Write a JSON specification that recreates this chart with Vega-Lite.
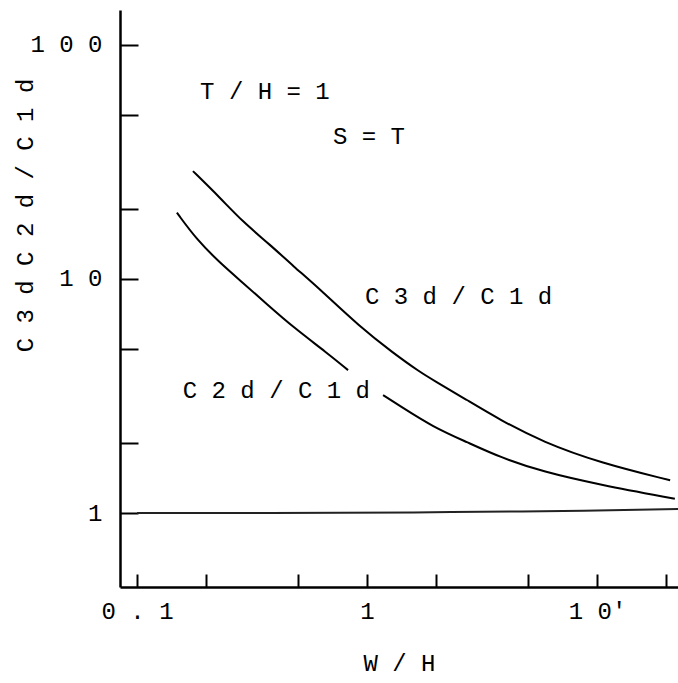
{
  "$schema": "https://vega.github.io/schema/vega-lite/v6.json",
  "width": 558,
  "height": 577,
  "autosize": {"type": "none"},
  "padding": {"left": 120, "top": 10, "right": 0, "bottom": 96},
  "background": "white",
  "config": {
    "view": {"stroke": null},
    "font": "Liberation Mono",
    "axis": {
      "domainColor": "black", "domainWidth": 2.5, "tickColor": "black", "tickWidth": 2,
      "labelColor": "black", "labelFont": "Liberation Mono", "labelFontSize": 24,
      "titleColor": "black", "titleFont": "Liberation Mono", "titleFontSize": 24, "titleFontWeight": "normal",
      "grid": false
    }
  },
  "datasets": {
    "curves": [
      {"series": "C3d/C1d", "seg": "a", "x": 0.175, "y": 28.9},
      {"series": "C3d/C1d", "seg": "a", "x": 0.230, "y": 22.2},
      {"series": "C3d/C1d", "seg": "a", "x": 0.289, "y": 17.5},
      {"series": "C3d/C1d", "seg": "a", "x": 0.379, "y": 14.0},
      {"series": "C3d/C1d", "seg": "a", "x": 0.480, "y": 11.3},
      {"series": "C3d/C1d", "seg": "a", "x": 0.612, "y": 9.2},
      {"series": "C3d/C1d", "seg": "a", "x": 0.932, "y": 6.23},
      {"series": "C3d/C1d", "seg": "a", "x": 1.30, "y": 4.83},
      {"series": "C3d/C1d", "seg": "a", "x": 1.70, "y": 4.00},
      {"series": "C3d/C1d", "seg": "a", "x": 1.94, "y": 3.70},
      {"series": "C3d/C1d", "seg": "a", "x": 2.72, "y": 3.04},
      {"series": "C3d/C1d", "seg": "a", "x": 3.79, "y": 2.50},
      {"series": "C3d/C1d", "seg": "a", "x": 5.82, "y": 2.01},
      {"series": "C3d/C1d", "seg": "a", "x": 10.3, "y": 1.64},
      {"series": "C3d/C1d", "seg": "a", "x": 20.8, "y": 1.38},
      {"series": "C2d/C1d", "seg": "a", "x": 0.149, "y": 19.2},
      {"series": "C2d/C1d", "seg": "a", "x": 0.182, "y": 14.7},
      {"series": "C2d/C1d", "seg": "a", "x": 0.230, "y": 11.7},
      {"series": "C2d/C1d", "seg": "a", "x": 0.289, "y": 9.62},
      {"series": "C2d/C1d", "seg": "a", "x": 0.367, "y": 7.8},
      {"series": "C2d/C1d", "seg": "a", "x": 0.477, "y": 6.23},
      {"series": "C2d/C1d", "seg": "a", "x": 0.670, "y": 4.83},
      {"series": "C2d/C1d", "seg": "a", "x": 0.827, "y": 4.08},
      {"series": "C2d/C1d", "seg": "b", "x": 1.174, "y": 3.19},
      {"series": "C2d/C1d", "seg": "b", "x": 1.39, "y": 2.87},
      {"series": "C2d/C1d", "seg": "b", "x": 1.94, "y": 2.33},
      {"series": "C2d/C1d", "seg": "b", "x": 2.72, "y": 2.01},
      {"series": "C2d/C1d", "seg": "b", "x": 3.79, "y": 1.73},
      {"series": "C2d/C1d", "seg": "b", "x": 5.82, "y": 1.50},
      {"series": "C2d/C1d", "seg": "b", "x": 10.3, "y": 1.32},
      {"series": "C2d/C1d", "seg": "b", "x": 21.8, "y": 1.15},
      {"series": "unity", "seg": "a", "x": 0.1, "y": 1.0},
      {"series": "unity", "seg": "a", "x": 1.0, "y": 1.0},
      {"series": "unity", "seg": "a", "x": 2.0, "y": 1.01},
      {"series": "unity", "seg": "a", "x": 10.0, "y": 1.02},
      {"series": "unity", "seg": "a", "x": 22.5, "y": 1.04}
    ],
    "notes": [
      {"label": "T / H = 1", "x": 0.188, "y": 63.0},
      {"label": "S = T", "x": 0.711, "y": 40.4},
      {"label": "C 3 d / C 1 d", "x": 0.98, "y": 8.38},
      {"label": "C 2 d / C 1 d", "x": 0.158, "y": 3.32}
    ]
  },
  "layer": [
    {
      "data": {"name": "curves"},
      "mark": {"type": "line", "color": "black", "strokeWidth": 2, "interpolate": "basis", "clip": true},
      "encoding": {
        "x": {
          "field": "x", "type": "quantitative",
          "scale": {"type": "log", "domain": [0.0843, 22.5], "nice": false, "zero": false},
          "axis": {
            "values": [0.1, 0.2, 0.5, 1, 2, 5, 10, 20],
            "labelExpr": "datum.value == 0.1 ? '0 . 1' : datum.value == 1 ? '1' : datum.value == 10 ? '1 0\\'' : ''",
            "tickSize": -13,
            "labelPadding": 25,
            "labelBaseline": "top",
            "labelFlush": false,
            "labelOverlap": false,
            "title": "W / H",
            "titleY": 76,
            "titleBaseline": "middle",
            "titleAlign": "center"
          }
        },
        "y": {
          "field": "y", "type": "quantitative",
          "scale": {"type": "log", "domain": [0.483, 141], "nice": false, "zero": false},
          "axis": {
            "values": [1, 2, 5, 10, 20, 50, 100],
            "labelExpr": "datum.value == 1 ? '1' : datum.value == 10 ? '1 0' : datum.value == 100 ? '1 0 0' : ''",
            "tickSize": -18,
            "labelPadding": 36,
            "labelBaseline": "middle",
            "labelFlush": false,
            "labelOverlap": false,
            "title": "C 3 d   C 2 d / C 1 d",
            "titleX": -95,
            "titleY": 205,
            "titleAngle": -90,
            "titleAlign": "center",
            "titleBaseline": "middle"
          }
        },
        "detail": {"field": "seg"},
        "color": {"field": "series", "legend": null, "scale": {"range": ["black", "black", "#222"]}}
      }
    },
    {
      "data": {"name": "notes"},
      "mark": {"type": "text", "align": "left", "baseline": "middle", "fontSize": 24, "color": "black", "font": "Liberation Mono"},
      "encoding": {
        "x": {"field": "x", "type": "quantitative"},
        "y": {"field": "y", "type": "quantitative"},
        "text": {"field": "label"}
      }
    }
  ]
}
